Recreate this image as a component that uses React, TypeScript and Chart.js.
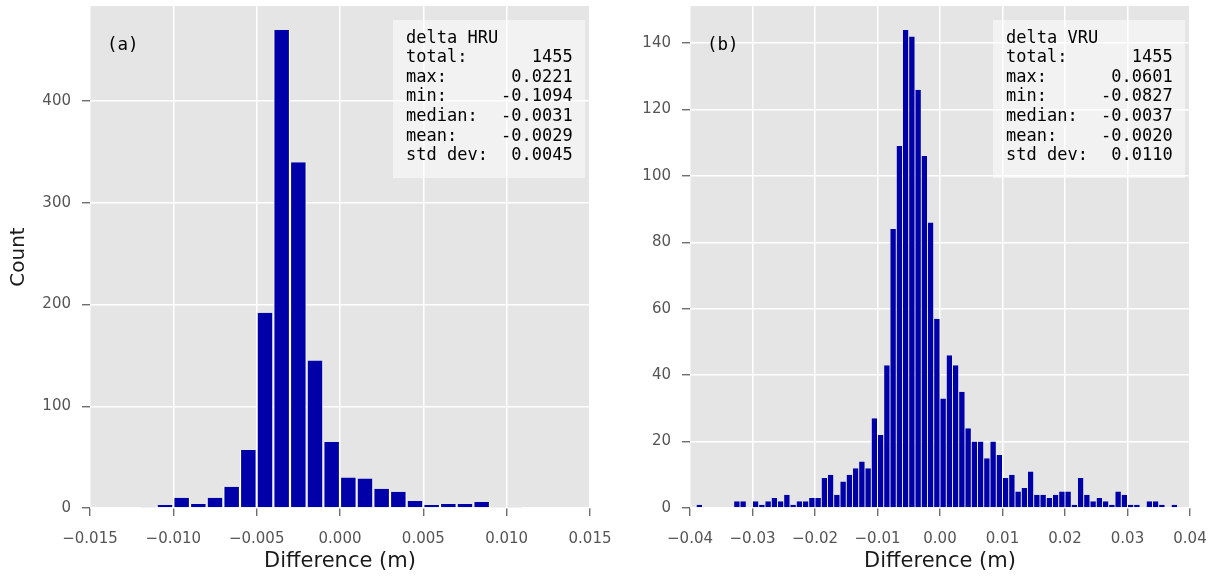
import React, { useEffect, useRef } from 'react';
import { Chart, registerables } from 'chart.js';

Chart.register(...registerables);

// ---- data: panel (a) delta HRU ----
const hruBins = [
  -0.0115, -0.0105, -0.0095, -0.0085, -0.0075, -0.0065, -0.0055, -0.0045,
  -0.0035, -0.0025, -0.0015, -0.0005, 0.0005, 0.0015, 0.0025, 0.0035,
  0.0045, 0.0055, 0.0065, 0.0075, 0.0085, 0.0095, 0.0105,
];
const hruCounts = [
  1, 3, 10, 4, 10, 21, 57, 192,
  470, 340, 145, 65, 30, 29, 19, 16,
  7, 3, 4, 4, 6, 1, 1,
];
const hruXTicks = [-0.015, -0.01, -0.005, 0, 0.005, 0.01, 0.015];
const hruXTickLabels = ['−0.015', '−0.010', '−0.005', '0.000', '0.005', '0.010', '0.015'];
const hruYTicks = [0, 100, 200, 300, 400];
const hruStats = [
  ['total:', '1455'],
  ['max:', '0.0221'],
  ['min:', '-0.1094'],
  ['median:', '-0.0031'],
  ['mean:', '-0.0029'],
  ['std dev:', '0.0045'],
];

// ---- data: panel (b) delta VRU ----
const vruBins = [
  -0.0395, -0.0385, -0.0375, -0.0365, -0.0355, -0.0345, -0.0335, -0.0325, -0.0315, -0.0305,
  -0.0295, -0.0285, -0.0275, -0.0265, -0.0255, -0.0245, -0.0235, -0.0225, -0.0215, -0.0205,
  -0.0195, -0.0185, -0.0175, -0.0165, -0.0155, -0.0145, -0.0135, -0.0125, -0.0115, -0.0105,
  -0.0095, -0.0085, -0.0075, -0.0065, -0.0055, -0.0045, -0.0035, -0.0025, -0.0015, -0.0005,
  0.0005, 0.0015, 0.0025, 0.0035, 0.0045, 0.0055, 0.0065, 0.0075, 0.0085, 0.0095,
  0.0105, 0.0115, 0.0125, 0.0135, 0.0145, 0.0155, 0.0165, 0.0175, 0.0185, 0.0195,
  0.0205, 0.0215, 0.0225, 0.0235, 0.0245, 0.0255, 0.0265, 0.0275, 0.0285, 0.0295,
  0.0305, 0.0315, 0.0325, 0.0335, 0.0345, 0.0355, 0.0365, 0.0375, 0.0385, 0.0395,
];
const vruCounts = [
  0, 1, 0, 0, 0, 0, 0, 2, 2, 0,
  2, 1, 2, 3, 2, 4, 1, 2, 2, 3,
  3, 9, 10, 4, 8, 10, 12, 14, 12, 27,
  22, 43, 84, 109, 144, 142, 126, 106, 86, 57,
  33, 46, 43, 35, 24, 20, 20, 15, 20, 16,
  9, 10, 5, 6, 11, 4, 4, 3, 4, 5,
  5, 1, 9, 4, 2, 3, 2, 1, 5, 4,
  1, 1, 0, 2, 2, 1, 0, 1, 0, 0,
];
const vruXTicks = [-0.04, -0.03, -0.02, -0.01, 0, 0.01, 0.02, 0.03, 0.04];
const vruXTickLabels = ['−0.04', '−0.03', '−0.02', '−0.01', '0.00', '0.01', '0.02', '0.03', '0.04'];
const vruYTicks = [0, 20, 40, 60, 80, 100, 120, 140];
const vruStats = [
  ['total:', '1455'],
  ['max:', '0.0601'],
  ['min:', '-0.0827'],
  ['median:', '-0.0037'],
  ['mean:', '-0.0020'],
  ['std dev:', '0.0110'],
];

const BAR = '#0000a8';
const PANEL = '#e5e5e5';
const TICK = '#555555';
const LABEL = '#1a1a1a';
const SANS = '"DejaVu Sans", sans-serif';
const MONO = '"DejaVu Sans Mono", monospace';

function makeDecor(panel: string, title: string, stats: string[][]) {
  return {
    id: 'panelDecor',
    beforeDraw(chart: any) {
      const { ctx, chartArea: a } = chart;
      ctx.save();
      ctx.fillStyle = PANEL;
      ctx.fillRect(a.left, a.top, a.right - a.left, a.bottom - a.top);
      ctx.restore();
    },
    afterDatasetsDraw(chart: any) {
      const { ctx, chartArea: a } = chart;
      ctx.save();
      const bx = a.right - 197;
      const by = a.top + 14;
      ctx.fillStyle = 'rgba(255,255,255,0.5)';
      ctx.fillRect(bx, by, 192, 158);
      ctx.fillStyle = '#000';
      ctx.font = '17px ' + MONO;
      ctx.textBaseline = 'middle';
      ctx.textAlign = 'left';
      const lh = 19.57;
      ctx.fillText(title, bx + 13, by + 18.3);
      stats.forEach((row, i) => {
        const y = by + 18.3 + lh * (i + 1);
        ctx.textAlign = 'left';
        ctx.fillText(row[0], bx + 13, y);
        ctx.textAlign = 'right';
        ctx.fillText(row[1], bx + 179.7, y);
      });
      ctx.textAlign = 'left';
      ctx.font = '17.5px ' + MONO;
      ctx.fillText(panel, a.left + 17, a.top + 39);
      ctx.restore();
    },
  };
}

function buildConfig(o: {
  bins: number[];
  counts: number[];
  xMin: number;
  xMax: number;
  xTicks: number[];
  xLabels: string[];
  yMax: number;
  yTicks: number[];
  yTitle: string | null;
  padRight: number;
  edge: number;
  panel: string;
  title: string;
  stats: string[][];
}): any {
  return {
    type: 'bar',
    data: {
      datasets: [
        {
          data: o.bins.map((b, i) => ({ x: b, y: o.counts[i] })),
          backgroundColor: BAR,
          borderColor: '#ffffff',
          borderWidth: { left: o.edge, right: o.edge, top: 0, bottom: 0 },
          inflateAmount: 0,
          barPercentage: 1,
          categoryPercentage: 1,
        },
      ],
    },
    options: {
      responsive: false,
      animation: false,
      devicePixelRatio: 1,
      layout: { padding: { left: 0, right: o.padRight, top: 6, bottom: 0 } },
      plugins: { legend: { display: false }, tooltip: { enabled: false } },
      scales: {
        x: {
          type: 'linear',
          min: o.xMin,
          max: o.xMax,
          offset: false,
          grid: { color: '#ffffff', lineWidth: 1.5, tickColor: TICK, tickLength: 8, tickWidth: 1.2, offset: false },
          border: { display: false },
          afterBuildTicks: (s: any) => {
            s.ticks = o.xTicks.map((v) => ({ value: v }));
          },
          ticks: {
            autoSkip: false,
            maxRotation: 0,
            minRotation: 0,
            padding: 14,
            color: TICK,
            font: { family: SANS, size: 15 },
            callback: (_v: any, i: number) => o.xLabels[i],
          },
          title: {
            display: true,
            text: 'Difference (m)',
            color: LABEL,
            font: { family: SANS, size: 21 },
            padding: { top: 0, bottom: 3 },
          },
          afterFit: (s: any) => {
            s.height = 69;
            s.paddingLeft = 0;
            s.paddingRight = 0;
            s.paddingTop = 0;
            s.paddingBottom = 0;
          },
        },
        y: {
          type: 'linear',
          min: 0,
          max: o.yMax,
          grid: { color: '#ffffff', lineWidth: 1.5, tickColor: TICK, tickLength: 8, tickWidth: 1.2 },
          border: { display: false },
          afterBuildTicks: (s: any) => {
            s.ticks = o.yTicks.map((v) => ({ value: v }));
          },
          ticks: {
            autoSkip: false,
            padding: 11,
            color: TICK,
            font: { family: SANS, size: 15 },
            callback: (v: any) => String(v),
          },
          title: o.yTitle
            ? {
                display: true,
                text: o.yTitle,
                color: LABEL,
                font: { family: SANS, size: 20 },
                padding: { top: 6.5, bottom: 0 },
              }
            : { display: false },
          afterFit: (s: any) => {
            s.width = 90;
            s.paddingLeft = 0;
            s.paddingRight = 0;
            s.paddingTop = 0;
            s.paddingBottom = 0;
          },
        },
      },
    },
    plugins: [makeDecor(o.panel, o.title, o.stats)],
  };
}

export default function App() {
  const leftRef = useRef<HTMLCanvasElement>(null);
  const rightRef = useRef<HTMLCanvasElement>(null);

  useEffect(() => {
    document.body.style.margin = '0';
    const c1 = new Chart(
      leftRef.current as HTMLCanvasElement,
      buildConfig({
        bins: hruBins,
        counts: hruCounts,
        xMin: -0.015,
        xMax: 0.015,
        xTicks: hruXTicks,
        xLabels: hruXTickLabels,
        yMax: 493.5,
        yTicks: hruYTicks,
        yTitle: 'Count',
        padRight: 50,
        edge: 1.1,
        panel: '(a)',
        title: 'delta HRU',
        stats: hruStats,
      })
    );
    const c2 = new Chart(
      rightRef.current as HTMLCanvasElement,
      buildConfig({
        bins: vruBins,
        counts: vruCounts,
        xMin: -0.04,
        xMax: 0.04,
        xTicks: vruXTicks,
        xLabels: vruXTickLabels,
        yMax: 151.2,
        yTicks: vruYTicks,
        yTitle: null,
        padRight: 25,
        edge: 0.45,
        panel: '(b)',
        title: 'delta VRU',
        stats: vruStats,
      })
    );
    return () => {
      c1.destroy();
      c2.destroy();
    };
  }, []);

  return (
    <div style={{ position: 'relative', width: 1215, height: 577, background: '#ffffff', overflow: 'hidden' }}>
      <canvas
        ref={leftRef}
        width={640}
        height={577}
        style={{ position: 'absolute', left: 0, top: 0, width: 640, height: 577 }}
      />
      <canvas
        ref={rightRef}
        width={615}
        height={577}
        style={{ position: 'absolute', left: 600, top: 0, width: 615, height: 577 }}
      />
    </div>
  );
}
